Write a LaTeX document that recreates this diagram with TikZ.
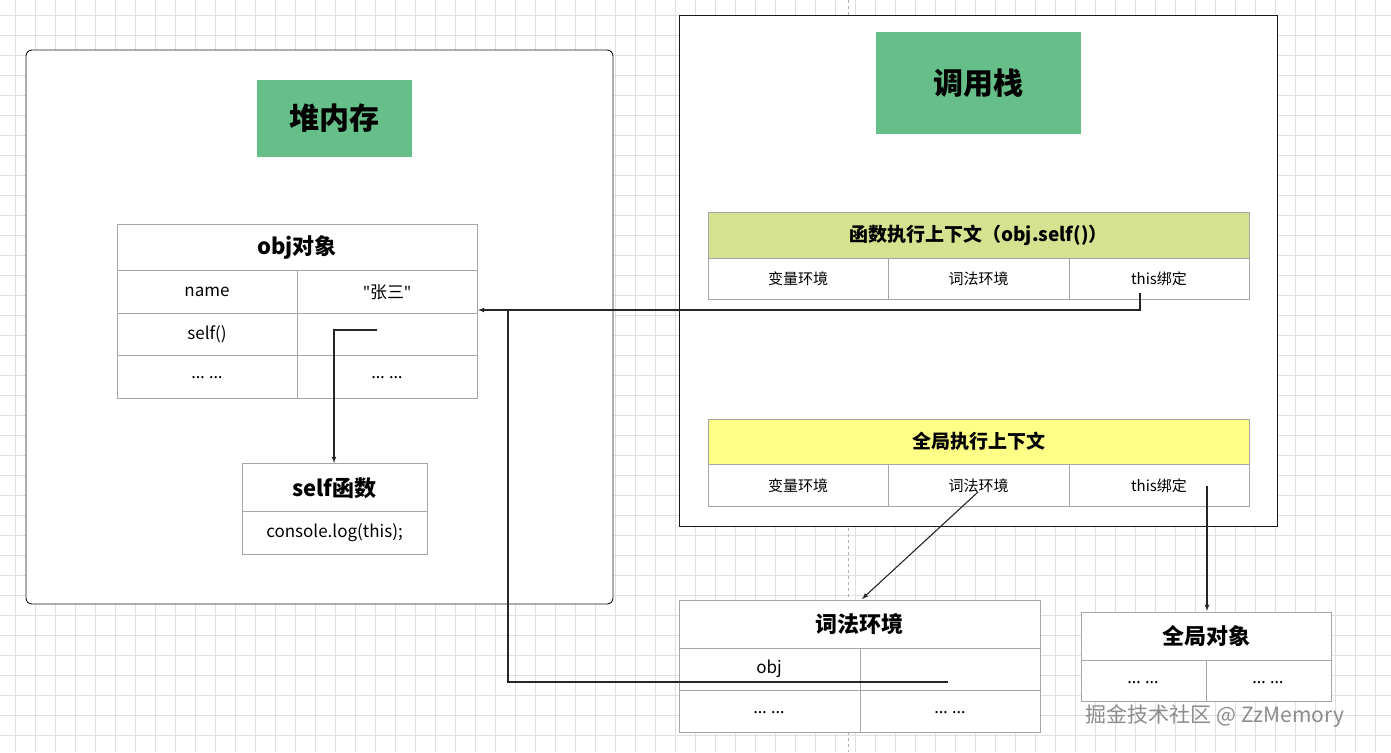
\documentclass[tikz,border=0pt]{standalone}
\usepackage{fontspec}
\setmainfont{Noto Sans CJK SC}
\newfontfamily\lat{Noto Sans}
\definecolor{gbox}{RGB}{102,191,136}
\definecolor{lhead}{RGB}{213,226,143}
\definecolor{yhead}{RGB}{255,255,136}
\begin{document}
\begin{tikzpicture}[x=1pt,y=-1pt,
  bx/.style={draw=black!35,fill=white,line width=0.8pt},
  hd/.style={font=\fontsize{22}{26}\selectfont\bfseries},
  cl/.style={font=\fontsize{17}{20}\selectfont},
  sm/.style={font=\fontsize{15}{18}\selectfont},
  ar/.style={-latex,line width=1.1pt,draw=black!85},
  ln/.style={line width=1.1pt,draw=black!85}]
\useasboundingbox (0,0) rectangle (1391,752);
\fill[white] (0,0) rectangle (1391,752);
\foreach \i in {0,...,69} {\draw[black!12,line width=0.6pt] (15+20*\i,0) -- (15+20*\i,752);}
\foreach \j in {0,...,37} {\draw[black!12,line width=0.6pt] (0,15+20*\j) -- (1391,15+20*\j);}
\draw[black!30,dashed,line width=0.8pt] (848,0) -- (848,752);
% heap
\draw[fill=white,rounded corners=6pt,line width=0.9pt,draw=black!90] (26,50) rectangle (613,604);
\node[fill=gbox,minimum width=155pt,minimum height=77pt,inner sep=0,font=\fontsize{30}{34}\selectfont\bfseries] (heap) at (334.5,118.5) {堆内存};
% obj table
\draw[bx] (117,224) rectangle (477,398);
\draw[bx] (117,270) -- (477,270) (117,313) -- (477,313) (117,355) -- (477,355) (297,270) -- (297,398);
\node[hd] (objh) at (297,247) {obj对象};
\node[cl] (n1) at (207,292) {name};
\node[cl] (v1) at (387,292) {{\lat"}张三{\lat"}};
\node[cl] (n2) at (207,334) {self()};
\coordinate (v2) at (377,330);
\node[cl] (n3) at (207,378) {\lat … …};
\node[cl] (v3) at (387,378) {\lat … …};
% self table
\draw[bx] (242,463) rectangle (427,554);
\draw[bx] (242,511) -- (427,511);
\node[hd] (selfh) at (334.5,488) {self函数};
\node[cl] (selfb) at (334.5,533) {console.log(this);};
\coordinate (selftop) at (334,463);
\draw[ar] (v2) -- (334,330) -- (selftop);
% stack
\draw[fill=white,line width=0.9pt,draw=black!90] (679,15) rectangle (1277,526);
\node[fill=gbox,minimum width=205pt,minimum height=102pt,inner sep=0,font=\fontsize{30}{34}\selectfont\bfseries] (stack) at (978.5,83) {调用栈};
% func ctx
\draw[bx,fill=lhead] (708,212) rectangle (1249,258);
\draw[bx] (708,258) rectangle (1249,299);
\draw[bx] (888,258) -- (888,299) (1069,258) -- (1069,299);
\node[font=\fontsize{19}{22}\selectfont\bfseries] (fh) at (978.5,235) {函数执行上下文（obj.self()）};
\node[sm] (f1) at (798,279) {变量环境};
\node[sm] (f2) at (978.5,279) {词法环境};
\node[sm] (f3) at (1159,279) {this绑定};
% global ctx
\draw[bx,fill=yhead] (708,419) rectangle (1249,464);
\draw[bx] (708,464) rectangle (1249,506);
\draw[bx] (888,464) -- (888,506) (1069,464) -- (1069,506);
\node[font=\fontsize{19}{22}\selectfont\bfseries] (gh) at (978.5,441) {全局执行上下文};
\node[sm] (g1) at (798,486) {变量环境};
\node[sm] (g2) at (978.5,486) {词法环境};
\node[sm] (g3) at (1159,486) {this绑定};
% lexical env
\draw[bx] (679,600) rectangle (1040,732);
\draw[bx] (679,648) -- (1040,648) (679,690) -- (1040,690) (860,648) -- (860,732);
\node[hd] (lh) at (859.5,624) {词法环境};
\node[cl] (l1) at (769,669) {obj};
\coordinate (l1v) at (948,682);
\node[cl] (l2) at (769,713) {\lat … …};
\node[cl] (l3) at (950,713) {\lat … …};
\coordinate (ltop) at (862,599);
% global object
\draw[bx] (1081,612) rectangle (1331,701);
\draw[bx] (1081,660) -- (1331,660) (1206,660) -- (1206,701);
\node[hd] (goh) at (1206,636) {全局对象};
\node[cl] (go1) at (1143,683) {\lat … …};
\node[cl] (go2) at (1268,683) {\lat … …};
% connectors
\coordinate (thisf) at (1140,293);
\coordinate (objv) at (478,310);
\draw[ar] (thisf) -- (1140,310) -- (objv);
\draw[ln] (l1v) -- (508,682) -- (508,310);
\draw[ar] (978,492) -- (ltop);
\draw[ar] (1207,486) -- (1207,611);
\node[text=black!45,font=\fontsize{21}{24}\selectfont] (wm) at (1215,716) {掘金技术社区 @ ZzMemory};
\end{tikzpicture}
\end{document}
